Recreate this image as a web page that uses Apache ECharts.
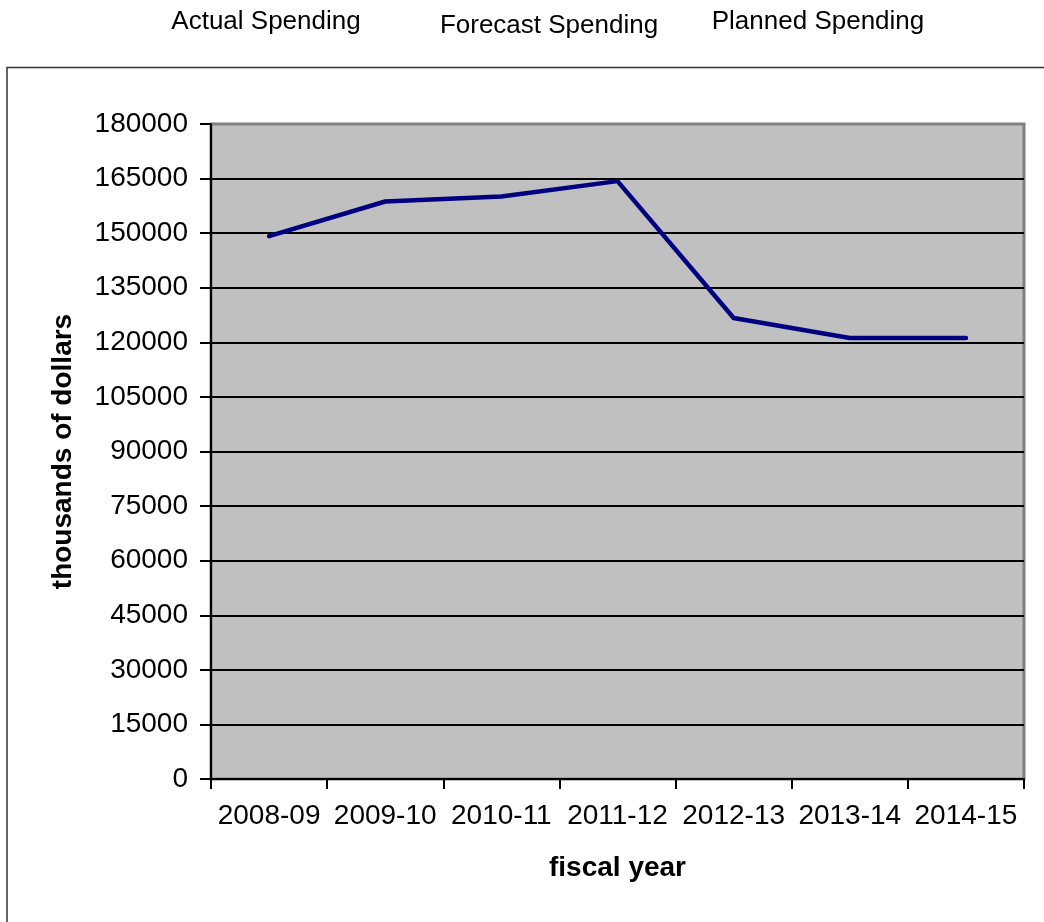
<!DOCTYPE html>
<html>
<head>
<meta charset="utf-8">
<script src="https://cdn.jsdelivr.net/npm/echarts@6/dist/echarts.min.js"></script>
<style>
html,body{margin:0;padding:0;background:#fff;}
#chart{width:1044px;height:922px;}
</style>
</head>
<body>
<div id="chart"></div>
<script>
var categories = ['2008-09','2009-10','2010-11','2011-12','2012-13','2013-14','2014-15'];
var spending = [149200, 158700, 160100, 164300, 126700, 121200, 121200];
var legendLabels = ['Actual Spending', 'Forecast Spending', 'Planned Spending'];
var yAxisName = 'thousands of dollars';
var xAxisName = 'fiscal year';

var FONT = '"Liberation Sans", Arial, sans-serif';
var chart = echarts.init(document.getElementById('chart'), null, {renderer: 'canvas'});

var legendPos = [[266, 22], [549, 26], [818, 22]];
var graphics = [{
  type: 'rect', z: -10,
  shape: {x: 7, y: 67.5, width: 1200, height: 1000},
  style: {fill: 'none', stroke: '#333', lineWidth: 1.5}
}];
legendLabels.forEach(function (t, i) {
  graphics.push({
    type: 'text', x: legendPos[i][0], y: legendPos[i][1],
    style: {text: t, font: '26px ' + FONT, fill: '#000', textAlign: 'center', textVerticalAlign: 'middle'}
  });
});

chart.setOption({
  animation: false,
  backgroundColor: '#fff',
  graphic: graphics,
  grid: {
    left: 211, right: 20, top: 124, bottom: 143,
    show: true, backgroundColor: '#C0C0C0', borderColor: '#808080', borderWidth: 3
  },
  xAxis: {
    type: 'category', data: categories, boundaryGap: true,
    name: xAxisName, nameLocation: 'middle', nameGap: 75,
    nameTextStyle: {fontFamily: FONT, fontSize: 28, fontWeight: 'bold', color: '#000'},
    axisLine: {show: true, lineStyle: {color: '#000', width: 2}},
    axisTick: {show: true, alignWithLabel: false, length: 10, lineStyle: {color: '#000', width: 2}},
    axisLabel: {fontFamily: FONT, fontSize: 28, color: '#000', margin: 23, interval: 0},
    splitLine: {show: false}
  },
  yAxis: {
    type: 'value', min: 0, max: 180000, interval: 15000,
    name: yAxisName, nameLocation: 'middle', nameGap: 134,
    nameTextStyle: {fontFamily: FONT, fontSize: 28, fontWeight: 'bold', color: '#000'},
    axisLine: {show: true, lineStyle: {color: '#000', width: 2}},
    axisTick: {show: true, length: 11, lineStyle: {color: '#000', width: 2}},
    axisLabel: {fontFamily: FONT, fontSize: 28, color: '#000', margin: 23,
      formatter: function (v) { return String(v); }},
    splitLine: {show: true, showMaxLine: false, lineStyle: {color: '#000', width: 2}}
  },
  series: [{
    type: 'line', data: spending, showSymbol: false, symbol: 'none',
    lineStyle: {color: '#000080', width: 4.5, cap: 'round', join: 'round'},
    z: 5
  }]
});
</script>
</body>
</html>
